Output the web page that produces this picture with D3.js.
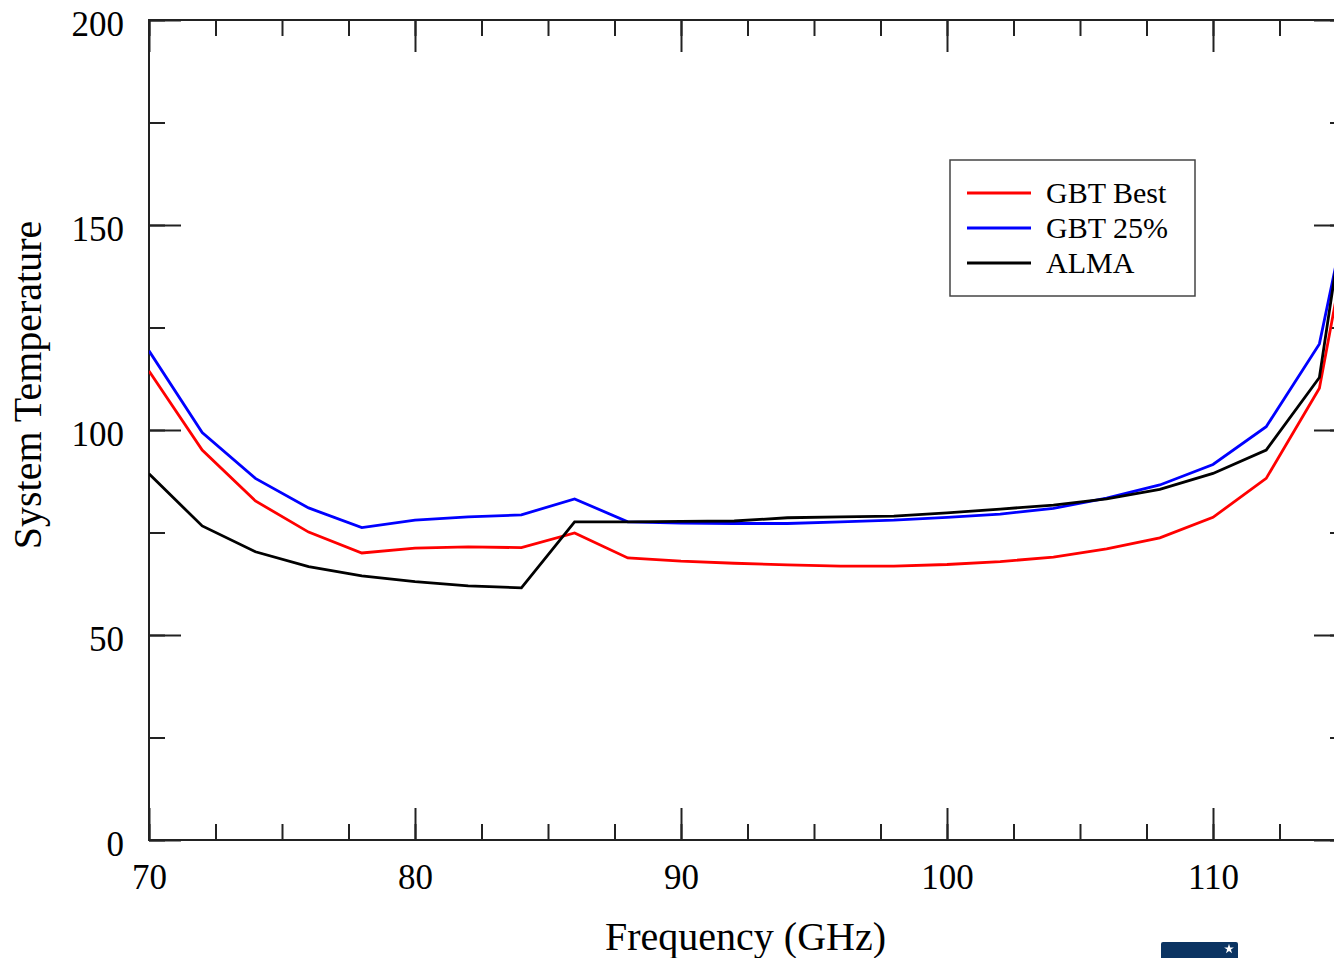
<!DOCTYPE html>
<html>
<head>
<meta charset="utf-8">
<script src="https://cdnjs.cloudflare.com/ajax/libs/d3/7.8.5/d3.min.js"></script>
<style>
  body { margin: 0; background: #fff; }
  .content { width: 1334px; height: 958px; overflow: hidden; }
  text { font-family: "Liberation Serif", "Times New Roman", serif; fill: #000; }
  .line { fill: none; stroke-width: 2.8; stroke-linejoin: miter; }
  .tick line { stroke: #222; stroke-width: 2; }
  .axis .domain { display: none; }
</style>
</head>
<body>
<div class="content"></div>
<script>
  // data
  var freqs   = [70, 72, 74, 76, 78, 80, 82, 84, 86, 88, 90, 92, 94, 96, 98, 100, 102, 104, 106, 108, 110, 112, 114, 115];
  var gbtBest = [114.4, 95.1, 82.7, 75.1, 70.0, 71.2, 71.5, 71.3, 74.9, 68.8, 68.0, 67.5, 67.1, 66.8, 66.8, 67.2, 67.9, 69.0, 71.0, 73.7, 78.7, 88.2, 110.2, 145];
  var gbt25   = [119.3, 99.4, 88.2, 81.0, 76.2, 78.0, 78.8, 79.3, 83.2, 77.6, 77.3, 77.2, 77.2, 77.6, 78.0, 78.7, 79.5, 80.9, 83.4, 86.6, 91.6, 100.8, 121.0, 152];
  var alma    = [89.3, 76.6, 70.3, 66.7, 64.4, 63.0, 62.0, 61.5, 77.6, 77.6, 77.7, 77.8, 78.6, 78.8, 79.0, 79.8, 80.7, 81.7, 83.2, 85.5, 89.4, 95.1, 112.8, 156];

  var seriesNames  = ["GBT Best", "GBT 25%", "ALMA"];
  var seriesColors = ["#ff0000", "#0000ff", "#000000"];
  var seriesValues = [gbtBest, gbt25, alma];

  var xMajor = [70, 80, 90, 100, 110];
  var yMajor = [0, 50, 100, 150, 200];
  var xMinor = d3.range(70, 115.1, 2.5);
  var yMinor = d3.range(0, 200.1, 25);

  // plot box (right edge runs past the visible page, as in the original)
  var width = 1334, height = 958,
      plotLeft = 149, plotRight = 1346, plotTop = 20, plotBottom = 840;

  var xScale = d3.scaleLinear().domain([70, 115]).range([plotLeft, plotRight]);
  var yScale = d3.scaleLinear().domain([0, 200]).range([plotBottom, plotTop]);

  var svg = d3.select(".content").append("svg")
      .attr("width", width)
      .attr("height", height);

  svg.append("clipPath").attr("id", "plot")
    .append("rect")
      .attr("x", plotLeft).attr("y", plotTop)
      .attr("width", plotRight - plotLeft).attr("height", plotBottom - plotTop);

  // minor ticks, all four sides, pointing inward
  svg.append("g").attr("class", "axis")
      .attr("transform", "translate(0," + plotBottom + ")")
      .call(d3.axisBottom(xScale).tickValues(xMinor).tickSize(-16).tickFormat(""));
  svg.append("g").attr("class", "axis")
      .attr("transform", "translate(0," + plotTop + ")")
      .call(d3.axisTop(xScale).tickValues(xMinor).tickSize(-16).tickFormat(""));
  svg.append("g").attr("class", "axis")
      .attr("transform", "translate(" + plotLeft + ",0)")
      .call(d3.axisLeft(yScale).tickValues(yMinor).tickSize(-16).tickFormat(""));
  svg.append("g").attr("class", "axis")
      .attr("transform", "translate(" + plotRight + ",0)")
      .call(d3.axisRight(yScale).tickValues(yMinor).tickSize(-16).tickFormat(""));

  // major ticks
  svg.append("g").attr("class", "axis")
      .attr("transform", "translate(0," + plotBottom + ")")
      .call(d3.axisBottom(xScale).tickValues(xMajor).tickSize(-32).tickPadding(24))
      .call(function(g) { g.selectAll("text").style("font-size", "35px").attr("font-family", null); });
  svg.append("g").attr("class", "axis")
      .attr("transform", "translate(0," + plotTop + ")")
      .call(d3.axisTop(xScale).tickValues(xMajor).tickSize(-32).tickFormat(""));
  svg.append("g").attr("class", "axis")
      .attr("transform", "translate(" + plotLeft + ",0)")
      .call(d3.axisLeft(yScale).tickValues(yMajor).tickSize(-32).tickPadding(25))
      .call(function(g) {
        g.selectAll("text").style("font-size", "35px").attr("font-family", null)
          .attr("dy", null).attr("y", 15);
      });
  svg.append("g").attr("class", "axis")
      .attr("transform", "translate(" + plotRight + ",0)")
      .call(d3.axisRight(yScale).tickValues(yMajor).tickSize(-32).tickFormat(""));

  // frame
  svg.append("rect")
      .attr("x", plotLeft).attr("y", plotTop)
      .attr("width", plotRight - plotLeft).attr("height", plotBottom - plotTop)
      .attr("fill", "none")
      .attr("stroke", "#222")
      .attr("stroke-width", 2);

  var line = d3.line()
      .x(function(d) { return xScale(d[0]); })
      .y(function(d) { return yScale(d[1]); });

  svg.append("g").attr("clip-path", "url(#plot)")
    .selectAll(".line")
    .data(seriesValues)
    .enter().append("path")
      .attr("class", "line")
      .attr("stroke", function(d, i) { return seriesColors[i]; })
      .attr("d", function(vals) { return line(vals.map(function(v, i) { return [freqs[i], v]; })); });

  // axis titles
  svg.append("text")
      .attr("x", (plotLeft + plotRight) / 2 - 2)
      .attr("y", 950)
      .attr("text-anchor", "middle")
      .style("font-size", "40px")
      .text("Frequency (GHz)");

  svg.append("text")
      .attr("transform", "translate(41,385) rotate(-90)")
      .attr("text-anchor", "middle")
      .style("font-size", "40px")
      .text("System Temperature");

  // legend
  var legend = svg.append("g").attr("transform", "translate(950,160)");
  legend.append("rect")
      .attr("width", 245).attr("height", 136)
      .attr("fill", "#fff")
      .attr("stroke", "#444")
      .attr("stroke-width", 1.5);
  var item = legend.selectAll(".item")
      .data(seriesNames)
      .enter().append("g")
      .attr("class", "item")
      .attr("transform", function(d, i) { return "translate(0," + (33 + i * 35) + ")"; });
  item.append("line")
      .attr("x1", 17).attr("x2", 81)
      .attr("stroke", function(d, i) { return seriesColors[i]; })
      .attr("stroke-width", 2.8);
  item.append("text")
      .attr("x", 96).attr("y", 10)
      .style("font-size", "30px")
      .text(function(d) { return d; });

  // bit of the logo peeking in at the bottom
  svg.append("rect")
      .attr("x", 1161).attr("y", 942)
      .attr("width", 77).attr("height", 20)
      .attr("rx", 2)
      .attr("fill", "#0b3462");
  svg.append("path")
      .attr("d", d3.symbol().type(d3.symbolStar).size(30)())
      .attr("transform", "translate(1229,949)")
      .attr("fill", "#fff");
</script>
</body>
</html>
